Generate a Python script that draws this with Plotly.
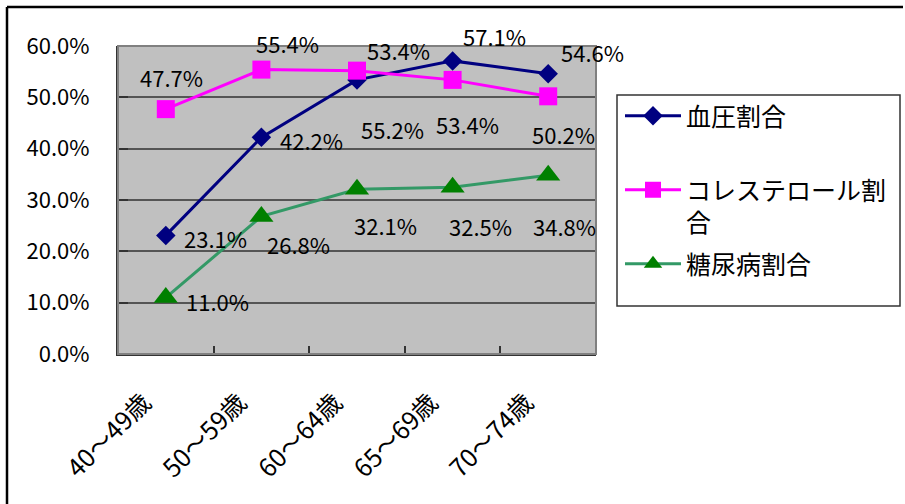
import plotly.graph_objects as go

categories = ["40～49歳", "50～59歳", "60～64歳", "65～69歳", "70～74歳"]
blood_pressure = [23.1, 42.2, 53.4, 57.1, 54.6]
cholesterol = [47.7, 55.4, 55.2, 53.4, 50.2]
diabetes = [11.0, 26.8, 32.1, 32.5, 34.8]
series_names = ["血圧割合<br>&nbsp;", "コレステロール割<br>合", "糖尿病割合"]

# label offsets (pixels) relative to each point
bp_dx = [50, 50, 41, 42, 44]
bp_dy = [-3, -3, 30, 25, 22]
ch_dx = [6, 26, 35, 15, 15]
ch_dy = [32, 27, -58, -44, -38]
db_dx = [52, 37, 28, 28, 16]
db_dy = [-3, -28, -36, -39, -51]

FONT = "Noto Sans CJK JP"
W, H = 905, 504
L, R, T, B = 118, 309, 46, 150
pw, ph = W - L - R, H - T - B


def px2paper_x(px):
    return (px - L) / pw


def px2paper_y(py):
    return (H - B - py) / ph


fig = go.Figure()
styles = [
    (blood_pressure, "#000080", "#000080", "diamond", 15, bp_dx, bp_dy),
    (cholesterol, "#FF00FF", "#FF00FF", "square", 18, ch_dx, ch_dy),
    (diabetes, "#339966", "#008000", "triangle-up", 21, db_dx, db_dy),
]
annotations = []
for i, (vals, lc, mc, sym, ms, dxs, dys) in enumerate(styles):
    fig.add_trace(go.Scatter(
        x=categories, y=vals, name=series_names[i], mode="lines+markers",
        line=dict(color=lc, width=3),
        marker=dict(color=mc, symbol=sym, size=ms, line=dict(width=0)),
        legendgroup=f"g{i}", cliponaxis=False,
    ))
    for c, v, dx, dy in zip(categories, vals, dxs, dys):
        annotations.append(dict(
            x=c, y=v, xref="x", yref="y", text=f"{v:.1f}%", showarrow=False,
            xshift=dx, yshift=dy, xanchor="center", yanchor="middle",
            font=dict(family=FONT, size=22, color="black"),
        ))

shapes = [
    # plot area border (gray)
    dict(type="rect", xref="paper", yref="paper", x0=0, x1=1, y0=0, y1=1,
         line=dict(color="#808080", width=2), layer="above"),
    # legend box
    dict(type="rect", xref="paper", yref="paper",
         x0=px2paper_x(617), x1=px2paper_x(900), y0=px2paper_y(306), y1=px2paper_y(95),
         line=dict(color="#333333", width=1.5)),
    # outer chart border (top & left visible)
    dict(type="line", xref="paper", yref="paper",
         x0=px2paper_x(7), x1=px2paper_x(903), y0=px2paper_y(7), y1=px2paper_y(7),
         line=dict(color="black", width=2.5)),
    dict(type="line", xref="paper", yref="paper",
         x0=px2paper_x(7), x1=px2paper_x(7), y0=px2paper_y(7), y1=px2paper_y(510),
         line=dict(color="black", width=2.5)),
]

fig.update_layout(
    width=W, height=H,
    margin=dict(l=L, r=R, t=T, b=B),
    paper_bgcolor="white", plot_bgcolor="#C0C0C0",
    font=dict(family=FONT, size=22, color="black"),
    showlegend=True,
    legend=dict(x=px2paper_x(620), y=px2paper_y(93), xanchor="left", yanchor="top",
                bgcolor="rgba(0,0,0,0)", borderwidth=0,
                font=dict(family=FONT, size=25, color="black"),
                traceorder="grouped", tracegroupgap=6, valign="top", itemwidth=56),
    annotations=annotations,
    shapes=shapes,
)
fig.update_xaxes(
    type="category", showgrid=False, tickangle=-45,
    ticks="inside", ticklen=8, tickcolor="#333333", tickwidth=1.5, tickson="boundaries",
    showline=True, linecolor="#333333", linewidth=2,
    tickfont=dict(family=FONT, size=25), ticklabelstandoff=22, ticklabelshift=-22,
    range=[-0.5, 4.5],
)
fig.update_yaxes(
    range=[0, 60], dtick=10, tickformat=".1f", ticksuffix="%",
    showgrid=True, gridcolor="#555555", gridwidth=1.5,
    ticks="inside", ticklen=10, tickcolor="#333333", tickwidth=1.5,
    showline=True, linecolor="#333333", linewidth=2,
    tickfont=dict(family=FONT, size=22), ticklabelstandoff=22, zeroline=False,
)

fig.write_html("out.html")
